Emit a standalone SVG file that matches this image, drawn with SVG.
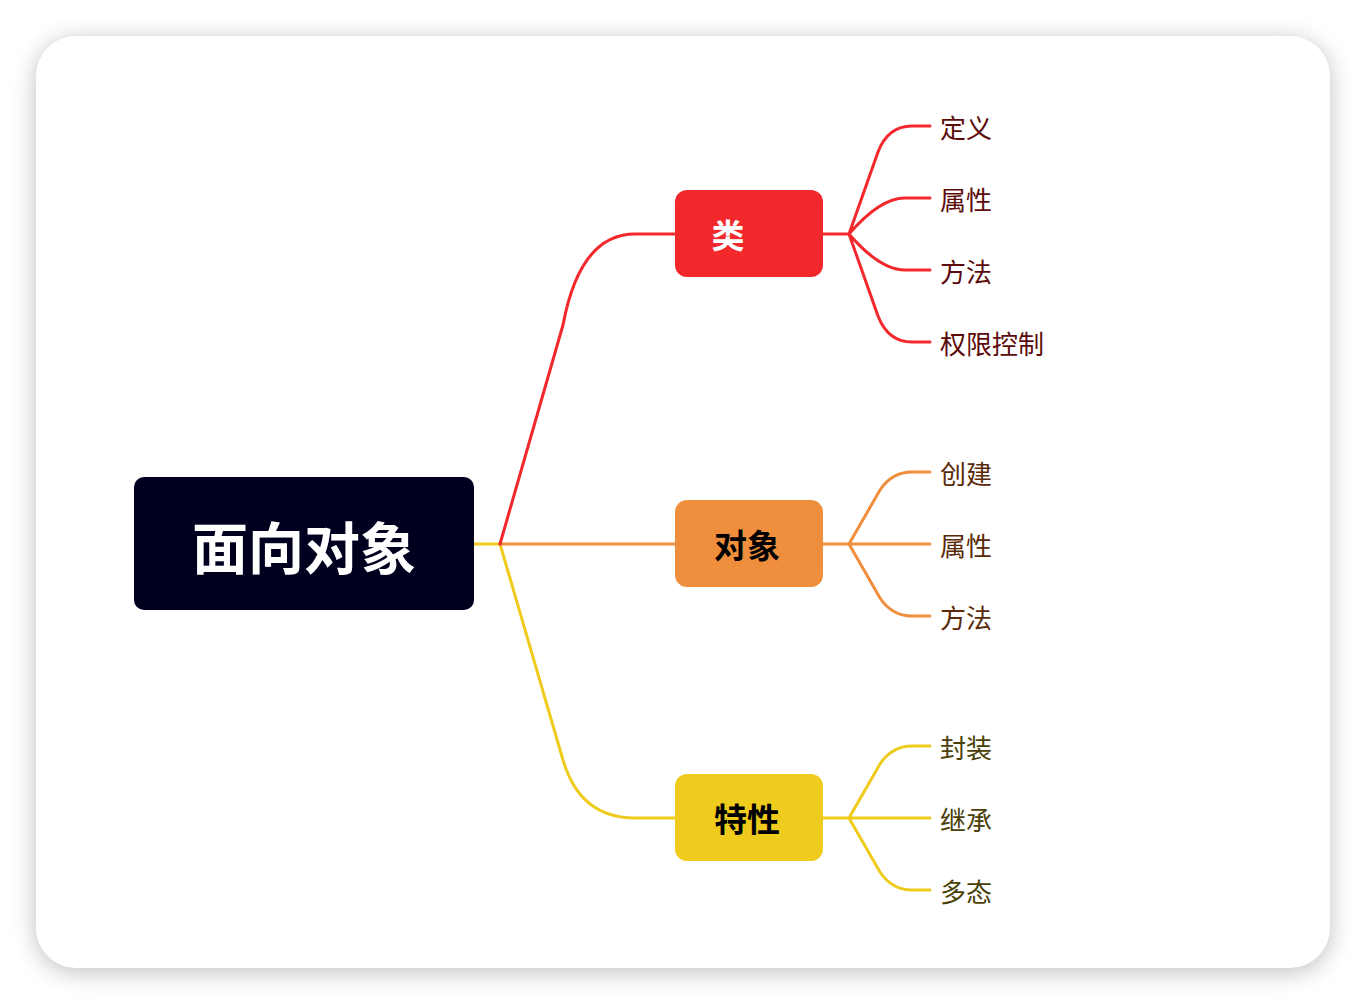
<svg xmlns="http://www.w3.org/2000/svg" width="1366" height="1004" viewBox="0 0 1366 1004">
<defs>
<filter id="sh" x="-10%" y="-10%" width="120%" height="120%"><feGaussianBlur stdDeviation="12"/></filter>
<style>
.c{fill:none;stroke-width:3;stroke-linecap:round;stroke-linejoin:round}
.r{stroke:#F3282C}.o{stroke:#EF8E3C}.y{stroke:#EECB1C}
text{font-family:"Noto Sans CJK SC","Noto Sans",sans-serif}
.leaf{font-size:26px;dominant-baseline:central}
.lr{fill:#5C0A0A}.lo{fill:#5A2A08}.ly{fill:#4A3F08}
.bt{font-size:33px;font-weight:bold;dominant-baseline:central;text-anchor:middle}
</style>
</defs>
<rect width="1366" height="1004" fill="#ffffff"/>
<rect x="36" y="40" width="1294" height="932" rx="40" fill="#000" opacity="0.25" filter="url(#sh)"/>
<rect x="36" y="36" width="1294" height="932" rx="40" fill="#ffffff"/>
<g id="connectors">
<path class="c y" d="M474,544 L500,544 L563,760 Q580,818 635,818 L675,818"/>
<path class="c o" d="M500,544 L675,544"/>
<path class="c r" d="M500,544 L563,325 Q580,234 635,234 L675,234"/>
<path class="c r" d="M823,234 L849,234 M849,234 L878,152 Q888,126 912,126 L930,126 M849,234 Q880,198 905,198 L930,198 M849,234 Q880,270 905,270 L930,270 M849,234 L878,316 Q888,342 912,342 L930,342"/>
<path class="c o" d="M823,544 L930,544 M849,544 L880,490 Q892,472 912,472 L930,472 M849,544 L880,598 Q892,616 912,616 L930,616"/>
<path class="c y" d="M823,818 L930,818 M849,818 L880,764 Q892,746 912,746 L930,746 M849,818 L880,872 Q892,890 912,890 L930,890"/>
</g>
<g id="root"><rect x="134" y="477" width="340" height="133" rx="10" fill="#00001E"/><text x="304" y="544" font-size="56" font-weight="bold" fill="#fff" text-anchor="middle" dominant-baseline="central">面向对象</text></g>
<g id="n-lei"><rect x="675" y="190" width="148" height="87" rx="12" fill="#F3282C"/><text class="bt" x="728" y="234" fill="#fff">类</text></g>
<g id="n-duixiang"><rect x="675" y="500" width="148" height="87" rx="12" fill="#EF8E3C"/><text class="bt" x="747" y="544" fill="#000">对象</text></g>
<g id="n-texing"><rect x="675" y="774" width="148" height="87" rx="12" fill="#EECB1C"/><text class="bt" x="747" y="818" fill="#000">特性</text></g>
<g id="l1"><text class="leaf lr" x="940" y="126">定义</text></g>
<g id="l2"><text class="leaf lr" x="940" y="198">属性</text></g>
<g id="l3"><text class="leaf lr" x="940" y="270">方法</text></g>
<g id="l4"><text class="leaf lr" x="940" y="342">权限控制</text></g>
<g id="l5"><text class="leaf lo" x="940" y="472">创建</text></g>
<g id="l6"><text class="leaf lo" x="940" y="544">属性</text></g>
<g id="l7"><text class="leaf lo" x="940" y="616">方法</text></g>
<g id="l8"><text class="leaf ly" x="940" y="746">封装</text></g>
<g id="l9"><text class="leaf ly" x="940" y="818">继承</text></g>
<g id="l10"><text class="leaf ly" x="940" y="890">多态</text></g>
</svg>
